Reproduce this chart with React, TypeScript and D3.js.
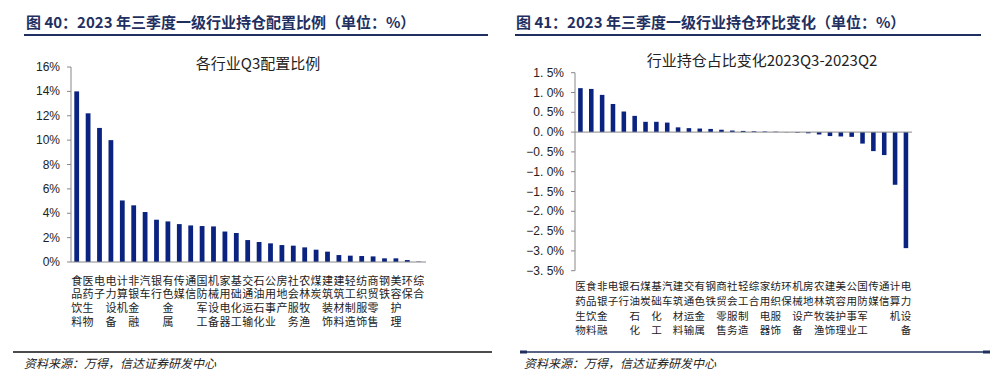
import React from "react";
import * as d3 from "d3";

const leftCategories = ["食品饮料","医药生物","电子","电力设备","计算机","非银金融","汽车","银行","有色金属","传媒","通信","国防军工","机械设备","家用电器","基础化工","交通运输","石油石化","公用事业","房地产","社会服务","农林牧渔","煤炭","建筑装饰","建筑材料","轻工制造","纺织服饰","商贸零售","钢铁","美容护理","环保","综合"];
const leftValues = [14.0,12.2,11.0,10.0,5.05,4.65,4.1,3.47,3.33,3.11,3.0,2.95,2.92,2.5,2.38,1.8,1.64,1.53,1.39,1.34,1.2,1.01,0.85,0.57,0.52,0.49,0.46,0.3,0.3,0.16,0.03];
const leftTicks = [0,2,4,6,8,10,12,14,16];

const rightCategories = ["医药生物","食品饮料","非银金融","电子","银行","石油石化","煤炭","基础化工","汽车","建筑材料","交通运输","有色金属","钢铁","商贸零售","社会服务","轻工制造","综合","家用电器","纺织服饰","环保","机械设备","房地产","农林牧渔","建筑装饰","美容护理","公用事业","国防军工","传媒","通信","计算机","电力设备"];
const rightValues = [1.11,1.09,0.94,0.71,0.52,0.41,0.26,0.26,0.24,0.12,0.1,0.09,0.08,0.06,0.04,0.03,0.02,0.015,0.01,-0.005,-0.015,-0.03,-0.06,-0.1,-0.11,-0.12,-0.29,-0.48,-0.58,-1.33,-2.93];
const rightTicks = [1.5,1.0,0.5,0,-0.5,-1.0,-1.5,-2.0,-2.5,-3.0,-3.5];

const BAR = "#0b2380";
const NAVY = "#1f2f5f";
const CJK = "'Noto Sans CJK SC', 'Noto Sans', sans-serif";
const ARIAL = "'Liberation Sans', Arial, sans-serif";

function fmtRight(v: number) {
  const s = Math.abs(v).toFixed(1).replace(".", ". ");
  return (v < 0 ? "\u2212" : "") + s + "%";
}

export default function App() {
  const lx = d3.scaleBand<string>().domain(leftCategories).range([71, 71 + 31 * 11.4]).paddingInner(0.58).paddingOuter(0.29);
  const ly = d3.scaleLinear().domain([0, 16]).range([262, 67]);
  const rx = d3.scaleBand<string>().domain(rightCategories).range([575, 575 + 31 * 10.85]).paddingInner(0.58).paddingOuter(0.29);
  const ry = d3.scaleLinear().domain([-3.5, 1.5]).range([270.7, 72.7]);

  return (
    <svg width={1000} height={381} style={{ position: "absolute", left: 0, top: 0, background: "#fff" }}>
      {/* Titles */}
      <text x={26} y={28} fontFamily={CJK} fontWeight="bold" fontSize={15} fill={NAVY}>图 40：2023 年三季度一级行业持仓配置比例（单位：%）</text>
      <line x1={24} x2={488} y1={35} y2={35} stroke={NAVY} strokeWidth={2} />
      <text x={516} y={28} fontFamily={CJK} fontWeight="bold" fontSize={15} fill={NAVY}>图 41：2023 年三季度一级行业持仓环比变化（单位：%）</text>
      <line x1={515} x2={981} y1={35} y2={35} stroke={NAVY} strokeWidth={2} />

      {/* Left chart */}
      <text x={258} y={69} textAnchor="middle" fontFamily={CJK} fontSize={15} fill="#222">各行业Q3配置比例</text>
      {leftTicks.map((t) => (
        <g key={t}>
          <line x1={67} x2={71} y1={ly(t)} y2={ly(t)} stroke="#888" />
          <text x={60} y={ly(t) + 4} textAnchor="end" fontFamily={ARIAL} fontSize={12} fill="#222">{t}%</text>
        </g>
      ))}
      {leftCategories.map((c, i) => (
        <rect key={c} x={lx(c)} y={ly(leftValues[i])} width={lx.bandwidth()} height={ly(0) - ly(leftValues[i])} fill={BAR} />
      ))}
      <line x1={71} x2={71} y1={ly(16)} y2={ly(0)} stroke="#888" />
      <line x1={71} x2={426} y1={ly(0)} y2={ly(0)} stroke="#888" />
      {leftCategories.map((c) =>
        c.split("").map((ch, r) => (
          <text key={c + r} x={(lx(c) as number) + lx.bandwidth() / 2} y={279.5 + 13.8 * r} dominantBaseline="central"
            fontFamily={CJK} fontSize={11} fill="#222" textAnchor="middle">{ch}</text>
        ))
      )}

      {/* Right chart */}
      <text x={762} y={66} textAnchor="middle" fontFamily={CJK} fontSize={15} fill="#222">行业持仓占比变化2023Q3-2023Q2</text>
      {rightTicks.map((t) => (
        <g key={t}>
          <line x1={571} x2={575} y1={ry(t)} y2={ry(t)} stroke="#888" />
          <text x={564} y={ry(t) + 4} textAnchor="end" fontFamily={ARIAL} fontSize={12} fill="#222">{fmtRight(t)}</text>
        </g>
      ))}
      {rightCategories.map((c, i) => {
        const v = rightValues[i];
        return (
          <rect key={c} x={rx(c)} y={ry(Math.max(0, v))} width={rx.bandwidth()} height={Math.abs(ry(v) - ry(0))} fill={BAR} />
        );
      })}
      <line x1={575} x2={575} y1={ry(1.5)} y2={ry(-3.5)} stroke="#888" />
      <line x1={575} x2={912} y1={ry(0)} y2={ry(0)} stroke="#888" />
      {rightCategories.map((c) =>
        c.split("").map((ch, r) => (
          <text key={c + r} x={(rx(c) as number) + rx.bandwidth() / 2} y={285.5 + 14.8 * r} dominantBaseline="central"
            fontFamily={CJK} fontSize={10.5} fill="#222" textAnchor="middle">{ch}</text>
        ))
      )}

      {/* Footers */}
      <line x1={13} x2={492} y1={352} y2={352} stroke="#111" strokeWidth={1.5} />
      <text x={24} y={368} fontFamily={CJK} fontSize={12} fontStyle="italic" fill="#222">资料来源：万得，信达证券研发中心</text>
      <line x1={520} x2={990} y1={352} y2={352} stroke={NAVY} strokeWidth={1.5} />
      <line x1={520} x2={527} y1={352} y2={352} stroke={NAVY} strokeWidth={3} />
      <line x1={983} x2={990} y1={352} y2={352} stroke={NAVY} strokeWidth={3} />
      <text x={524} y={368} fontFamily={CJK} fontSize={12} fontStyle="italic" fill="#222">资料来源：万得，信达证券研发中心</text>
    </svg>
  );
}
